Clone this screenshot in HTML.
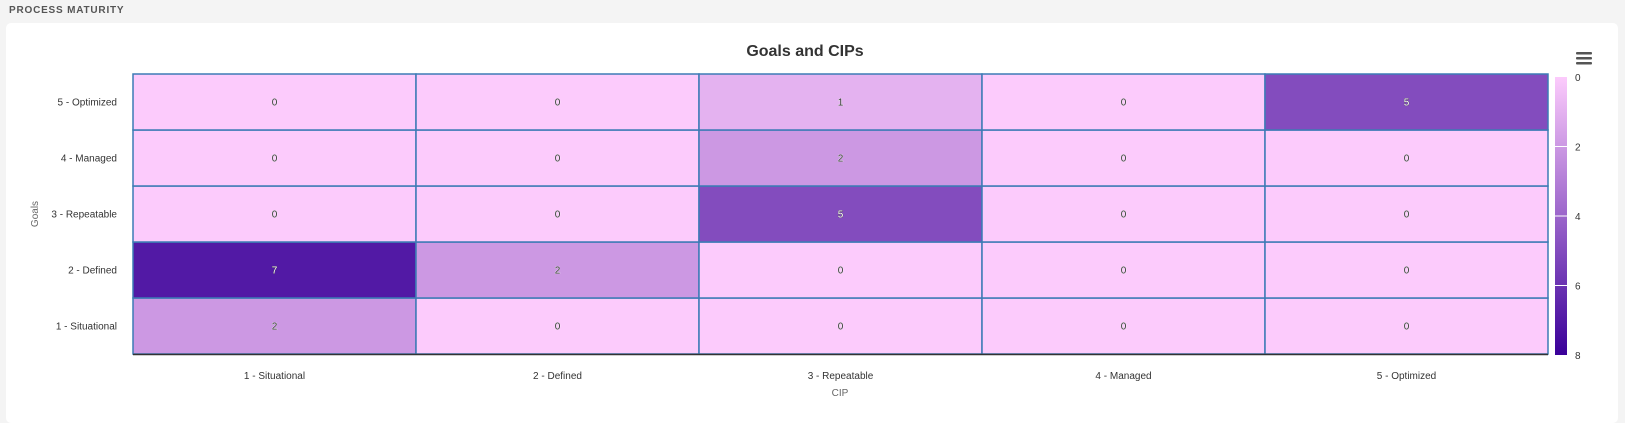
<!DOCTYPE html>
<html><head><meta charset="utf-8"><style>
body{margin:0;width:1625px;height:410px;background:#f4f4f4;font-family:"Liberation Sans",Arial,sans-serif;overflow:hidden;position:relative}
.hdr{position:absolute;left:9px;top:5px;font-size:10px;font-weight:bold;letter-spacing:0.8px;color:#555}
.card{position:absolute;left:6px;top:23px;width:1612px;height:400px;background:#fff;border-radius:5px}
svg{position:absolute;left:0;top:0}
</style></head><body>
<div class="hdr">PROCESS MATURITY</div>
<div class="card"></div>
<svg id="chart" width="1625" height="410" font-family="Liberation Sans, Arial, sans-serif">
<text x="805" y="56" text-anchor="middle" font-size="16" font-weight="bold" fill="#333">Goals and CIPs</text>
<g fill="#555">
<rect x="1576" y="52" width="16" height="2.5" rx="1"/><rect x="1576" y="57" width="16" height="2.5" rx="1"/><rect x="1576" y="62" width="16" height="2.5" rx="1"/></g>
<text transform="translate(38,214) rotate(-90)" text-anchor="middle" font-size="10" fill="#666">Goals</text>
<text x="840" y="396" text-anchor="middle" font-size="10" fill="#666">CIP</text>
<defs><linearGradient id="lg" x1="0" y1="0" x2="0" y2="1"><stop offset="0" stop-color="#fccbfc"/><stop offset="1" stop-color="#3a0099"/></linearGradient></defs>
<g id="cells"></g><g id="axes"></g><g id="legend"></g>
</svg>
<script>
const xCats=["1 - Situational","2 - Defined","3 - Repeatable","4 - Managed","5 - Optimized"];
const yCats=["1 - Situational","2 - Defined","3 - Repeatable","4 - Managed","5 - Optimized"];
// values[yIndex][xIndex]
const values=[[2,0,0,0,0],[7,2,0,0,0],[0,0,5,0,0],[0,0,2,0,0],[0,0,1,0,5]];
const legendTicks=[0,2,4,6,8];
const NS="http://www.w3.org/2000/svg";
const L=133,R=1548,T=74,B=354,vmin=0,vmax=8;
const cw=(R-L)/xCats.length,ch=(B-T)/yCats.length;
const xPos=i=>L+i*cw, yPos=j=>B-(j+1)*ch;
function color(v){const t=(v-vmin)/(vmax-vmin);const a=[252,203,252],b=[58,0,153];return `rgb(${a.map((c,i)=>Math.round(c+(b[i]-c)*t)).join(',')})`;}
function mk(tag,attrs,parent){const e=document.createElementNS(NS,tag);for(const k in attrs)e.setAttribute(k,attrs[k]);parent.appendChild(e);return e;}
const cells=document.getElementById('cells'),axes=document.getElementById('axes'),leg=document.getElementById('legend');
values.forEach((row,j)=>row.forEach((v,i)=>{
 const r=mk('rect',{x:xPos(i),y:yPos(j),width:cw,height:ch,fill:color(v),stroke:'#3d7bb5','stroke-width':1.5},cells);
 
 
 const t=mk('text',{x:xPos(i)+cw/2,y:yPos(j)+ch/2+3.5,'text-anchor':'middle','font-size':10,fill:v>=4?'#fff':'#333',stroke:v>=4?'#333':'#fff','stroke-width':0.6,'paint-order':'stroke'},cells);
 t.textContent=v;
 
 
}));
mk('line',{x1:L,y1:B+0.5,x2:R,y2:B+0.5,stroke:'#333','stroke-width':1.5},axes);
xCats.forEach((c,i)=>{const t=mk('text',{x:xPos(i)+cw/2,y:379,'text-anchor':'middle','font-size':10,fill:'#333'},axes);t.textContent=c;
 
 });
yCats.forEach((c,j)=>{const t=mk('text',{x:117,y:yPos(j)+ch/2+3.5,'text-anchor':'end','font-size':10,fill:'#333'},axes);t.textContent=c;
 
 });
const lT=77,lB=355,lx=1555;
const lr=mk('rect',{x:lx,y:lT,width:12,height:lB-lT,fill:'url(#lg)'},leg);


legendTicks.forEach(v=>{const y=lT+(v-vmin)/(vmax-vmin)*(lB-lT);
 if(v>vmin&&v<vmax)mk('line',{x1:lx,x2:lx+12,y1:y,y2:y,stroke:'#fff','stroke-width':1},leg);
 const t=mk('text',{x:1575,y:y+4,'font-size':10,fill:'#333'},leg);t.textContent=v;
 
 });
</script>
</body></html>
